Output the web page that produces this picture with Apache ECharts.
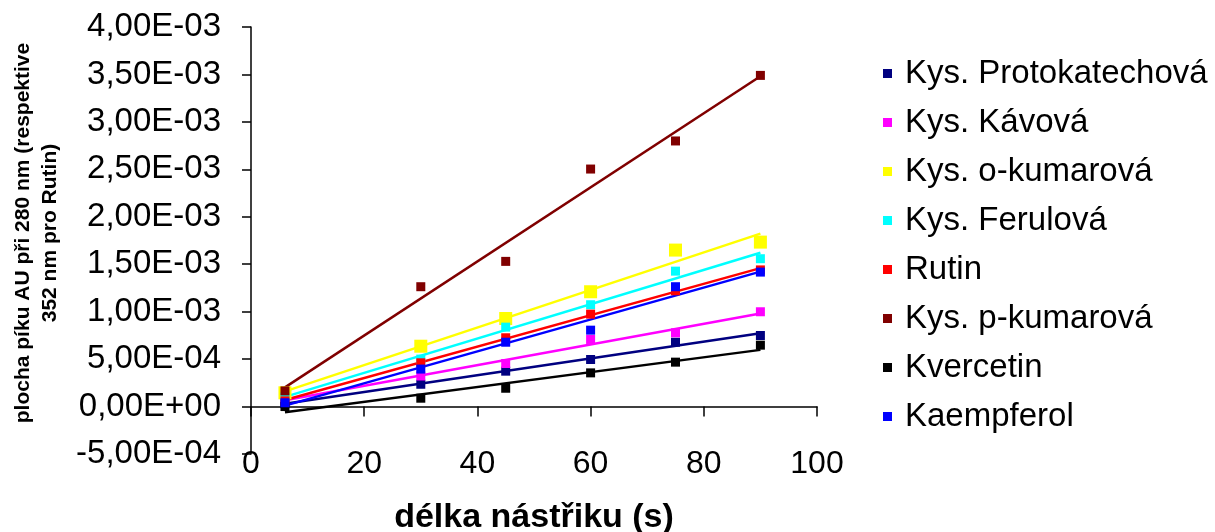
<!DOCTYPE html>
<html>
<head>
<meta charset="utf-8">
<title>Plocha píku vs. délka nástřiku</title>
<script src="https://cdn.jsdelivr.net/npm/echarts@6/dist/echarts.min.js"></script>
<style>
  html, body { margin: 0; padding: 0; background: #fff; }
  #chart { width: 1215px; height: 532px; }
</style>
</head>
<body>
<div id="chart"></div>
<script>
// Injection times (s)
const injectionTimes = [6, 30, 45, 60, 75, 90];

// Peak areas (AU), one array per compound
const protokatechova = [0.030e-3, 0.235e-3, 0.373e-3, 0.496e-3, 0.678e-3, 0.749e-3];
const kavova         = [0.080e-3, 0.322e-3, 0.454e-3, 0.707e-3, 0.777e-3, 0.999e-3];
const oKumarova      = [0.145e-3, 0.636e-3, 0.928e-3, 1.210e-3, 1.649e-3, 1.733e-3];
const ferulova       = [0.100e-3, 0.500e-3, 0.837e-3, 1.073e-3, 1.427e-3, 1.558e-3];
const rutin          = [0.060e-3, 0.461e-3, 0.725e-3, 0.974e-3, 1.220e-3, 1.440e-3];
const pKumarova      = [0.165e-3, 1.263e-3, 1.530e-3, 2.503e-3, 2.799e-3, 3.490e-3];
const kvercetin      = [0.000e-3, 0.088e-3, 0.193e-3, 0.355e-3, 0.468e-3, 0.647e-3];
const kaempferol     = [0.040e-3, 0.395e-3, 0.678e-3, 0.805e-3, 1.263e-3, 1.417e-3];

const seriesNames = ['Kys. Protokatechová', 'Kys. Kávová', 'Kys. o-kumarová', 'Kys. Ferulová',
                     'Rutin', 'Kys. p-kumarová', 'Kvercetin', 'Kaempferol'];
const seriesValues = [protokatechova, kavova, oKumarova, ferulova, rutin, pKumarova, kvercetin, kaempferol];
const seriesColors = ['#000080', '#FF00FF', '#FFFF00', '#00FFFF', '#FF0000', '#800000', '#000000', '#0000FF'];

// Axis settings
const yMin = -5e-4, yMax = 4e-3, yStep = 5e-4;
const xMin = 0, xMax = 100, xStep = 20;

const xTitle = 'délka nástřiku (s)';
const yTitleLines = ['plocha píku AU při 280 nm (respektive', '352 nm pro Rutin)'];

// Excel-style scientific label with decimal comma: 4,00E-03
function sciLabel(v) {
  if (Math.abs(v) < 1e-12) return '0,00E+00';
  const parts = v.toExponential(2).split('e');
  const exp = parseInt(parts[1], 10);
  return parts[0].replace('.', ',') + 'E' + (exp < 0 ? '-' : '+') + String(Math.abs(exp)).padStart(2, '0');
}

// Least-squares linear trend, evaluated at the first and last x
function trendLine(xs, ys) {
  const n = xs.length;
  const mx = xs.reduce((a, b) => a + b, 0) / n;
  const my = ys.reduce((a, b) => a + b, 0) / n;
  let sxy = 0, sxx = 0;
  for (let i = 0; i < n; i++) {
    sxy += (xs[i] - mx) * (ys[i] - my);
    sxx += (xs[i] - mx) * (xs[i] - mx);
  }
  const b = sxy / sxx, a = my - b * mx;
  const x0 = Math.min(...xs), x1 = Math.max(...xs);
  return [[x0, a + b * x0], [x1, a + b * x1]];
}

const FONT = '"Liberation Sans", Arial, Helvetica, sans-serif';

const series = [];
seriesNames.forEach((name, i) => {
  series.push({
    name: name + ' trend',
    type: 'line',
    data: trendLine(injectionTimes, seriesValues[i]),
    showSymbol: false,
    symbol: 'none',
    lineStyle: { color: seriesColors[i], width: 2.5 },
    silent: true,
    z: 2
  });
});
seriesNames.forEach((name, i) => {
  series.push({
    name: name,
    type: 'scatter',
    data: injectionTimes.map((x, k) => [x, seriesValues[i][k]]),
    symbol: 'rect',
    symbolSize: name === 'Kys. o-kumarová' ? 13 : 9,
    itemStyle: { color: seriesColors[i], opacity: 1 },
    z: 3
  });
});

const chart = echarts.init(document.getElementById('chart'), null, { renderer: 'canvas' });
chart.setOption({
  animation: false,
  backgroundColor: '#ffffff',
  grid: { left: 251, right: 398, top: 27, bottom: 78, containLabel: false },
  legend: {
    data: seriesNames.map((n, i) => ({ name: n, itemStyle: { color: seriesColors[i], opacity: 1 } })),
    orient: 'vertical',
    left: 878,
    top: 51,
    itemWidth: 9,
    itemHeight: 9,
    itemGap: 14,
    icon: 'rect',
    textStyle: { fontFamily: FONT, fontSize: 33, color: '#000', lineHeight: 35, padding: [0, 0, 0, 8] }
  },
  xAxis: {
    type: 'value',
    min: xMin, max: xMax, interval: xStep,
    axisLine: { onZero: true, lineStyle: { color: '#000', width: 1.5 } },
    axisTick: { show: true, length: 10, lineStyle: { color: '#000', width: 1.5 } },
    axisLabel: { fontFamily: FONT, fontSize: 32, color: '#000', margin: -6 },
    splitLine: { show: false }
  },
  yAxis: {
    type: 'value',
    min: yMin, max: yMax, interval: yStep,
    axisLine: { show: true, onZero: false, lineStyle: { color: '#000', width: 1.5 } },
    axisTick: { show: true, length: 9, lineStyle: { color: '#000', width: 1.5 } },
    axisLabel: { fontFamily: FONT, fontSize: 33, color: '#000', margin: 30, formatter: sciLabel },
    splitLine: { show: false }
  },
  graphic: [
    {
      type: 'text',
      x: 534, y: 518,
      style: {
        text: xTitle,
        fontFamily: FONT, fontSize: 34, fontWeight: 'bold', fill: '#000',
        textAlign: 'center', textVerticalAlign: 'middle'
      }
    },
    {
      type: 'text',
      x: 37, y: 233,
      rotation: Math.PI / 2,
      style: {
        text: yTitleLines.join('\n'),
        fontFamily: FONT, fontSize: 21, fontWeight: 'bold', fill: '#000',
        lineHeight: 27,
        textAlign: 'center', textVerticalAlign: 'middle'
      }
    }
  ],
  series: series
});
</script>
</body>
</html>
